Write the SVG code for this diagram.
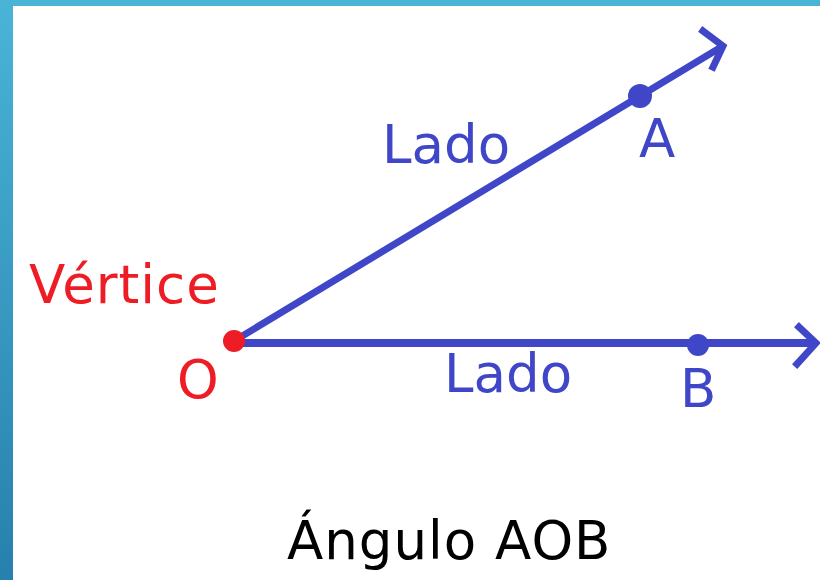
<svg xmlns="http://www.w3.org/2000/svg" width="820" height="580" viewBox="0 0 820 580">
  <defs>
    <linearGradient id="bg" x1="0" y1="0" x2="0" y2="1">
      <stop offset="0" stop-color="#4AB4D7"/>
      <stop offset="1" stop-color="#2780AD"/>
    </linearGradient>
    <style>
      .t { font-family: "DejaVu Sans", Verdana, sans-serif; font-size: 53px; }
      .sp { letter-spacing: 1px; }
      .blue { fill: #4046C8; }
      .red { fill: #EE1C25; }
      .ray { stroke: #4046C8; stroke-width: 7; fill: none; stroke-linecap: butt; }
      .head { stroke: #4046C8; stroke-width: 7; fill: none; stroke-linecap: square; stroke-linejoin: miter; }
    </style>
  </defs>
  <rect x="0" y="0" width="820" height="580" fill="#ffffff"/>
  <rect x="0" y="0" width="820" height="6" fill="#4AB4D7"/>
  <rect x="0" y="0" width="13" height="580" fill="url(#bg)"/>

  <g id="connectors">
    <line class="ray" x1="234" y1="341" x2="723" y2="46"/>
    <polyline class="head" points="703,31 723,46 713,67"/>
    <line class="ray" x1="234" y1="343" x2="816" y2="343" style="stroke-width:8"/>
    <polyline class="head" points="799,327 816,343 797,364"/>
  </g>

  <g id="vertex-O">
    <circle cx="234" cy="341" r="11" fill="#EE1C25"/>
    <text class="t red" x="177" y="398">O</text>
    <text class="t red sp" x="29" y="303">Vértice</text>
  </g>
  <g id="point-A">
    <circle cx="640" cy="96" r="12" fill="#4046C8"/>
    <text class="t blue" x="639" y="157">A</text>
  </g>
  <g id="point-B">
    <circle cx="698" cy="345" r="11" fill="#4046C8"/>
    <text class="t blue" x="680" y="407">B</text>
  </g>
  <g id="labels">
    <text class="t blue" x="382" y="163">Lado</text>
    <text class="t blue" x="444" y="392">Lado</text>
    <text class="t sp" x="287" y="559" fill="#000000">Ángulo AOB</text>
  </g>
</svg>
